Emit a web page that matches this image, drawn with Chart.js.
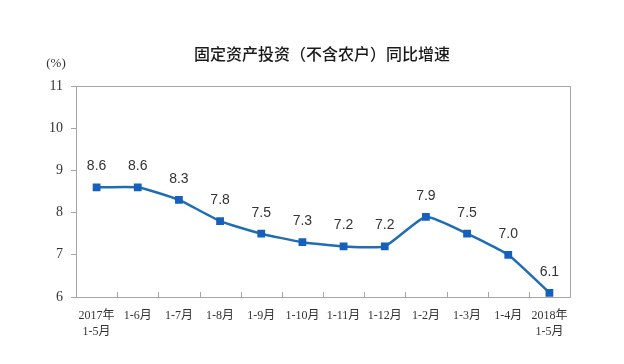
<!DOCTYPE html>
<html><head><meta charset="utf-8">
<script src="https://cdn.jsdelivr.net/npm/chart.js@4"></script>
<style>html,body{margin:0;padding:0;background:#fff;overflow:hidden}#wrap{width:624px;height:364px}</style>
</head><body><div id="wrap"><canvas id="c" width="624" height="364"></canvas></div>
<script>
const categories = [["2017年","1-5月"],"1-6月","1-7月","1-8月","1-9月","1-10月","1-11月","1-12月","1-2月","1-3月","1-4月",["2018年","1-5月"]];
const growth = [8.6,8.6,8.3,7.8,7.5,7.3,7.2,7.2,7.9,7.5,7.0,6.1];
const yTicks = [6,7,8,9,10,11];
const titleText = "固定资产投资（不含农户）同比增速";
const unitText = "(%)";

const frame = {
  id: 'frame',
  beforeDatasetsDraw(chart) {
    const {ctx, chartArea: a, scales: {x}} = chart;
    ctx.save();
    ctx.strokeStyle = '#a6a6a6';
    ctx.lineWidth = 1;
    ctx.strokeRect(Math.round(a.left) + 0.5, Math.round(a.top) + 0.5, Math.round(a.right - a.left), Math.round(a.bottom - a.top));
    for (let i = 0; i < categories.length - 1; i++) {
      const px = Math.round((x.getPixelForValue(i) + x.getPixelForValue(i + 1)) / 2) + 0.5;
      ctx.beginPath();
      ctx.moveTo(px, a.bottom);
      ctx.lineTo(px, a.bottom - 5);
      ctx.stroke();
    }
    ctx.restore();
  },
  afterDatasetsDraw(chart) {
    const {ctx} = chart;
    const meta = chart.getDatasetMeta(0);
    ctx.save();
    ctx.font = '14px "Liberation Sans", Arial, sans-serif';
    ctx.fillStyle = '#333';
    ctx.textAlign = 'center';
    ctx.textBaseline = 'middle';
    meta.data.forEach((p, i) => {
      ctx.fillText(growth[i].toFixed(1), p.x, p.y - 21);
    });
    ctx.restore();
  },
  afterDraw(chart) {
    const {ctx} = chart;
    ctx.save();
    ctx.fillStyle = '#1a1a1a';
    ctx.textAlign = 'center';
    ctx.textBaseline = 'middle';
    ctx.font = '500 16px "Noto Sans CJK SC", sans-serif';
    ctx.fillText(titleText, 322, 54);
    ctx.font = '13px "Liberation Serif", serif';
    ctx.fillStyle = '#333';
    ctx.fillText(unitText, 56, 64);
    ctx.restore();
  }
};

new Chart(document.getElementById('c'), {
  type: 'line',
  data: {
    labels: categories,
    datasets: [{
      data: growth,
      borderColor: '#1f6db3',
      borderWidth: 2.5,
      backgroundColor: '#1560bd',
      pointStyle: 'rect',
      pointRadius: 5.5,
      pointBackgroundColor: '#1560bd',
      pointBorderColor: '#1560bd',
      pointBorderWidth: 0,
      tension: 0.15,
      fill: false
    }]
  },
  options: {
    responsive: false,
    animation: false,
    events: [],
    layout: {padding: {left: 40, right: 54, top: 86, bottom: 27}},
    plugins: {legend: {display: false}, tooltip: {enabled: false}, title: {display: false}},
    scales: {
      x: {
        offset: true,
        grid: {display: false},
        border: {display: false},
        ticks: {
          autoSkip: false, maxRotation: 0, minRotation: 0, padding: 2,
          color: '#333',
          font: {family: '"Liberation Serif", "Noto Sans CJK SC", serif', size: 12, lineHeight: 1.4}
        },
        afterFit(s) { s.height = 40; }
      },
      y: {
        min: yTicks[0], max: yTicks[yTicks.length - 1],
        afterBuildTicks(s) { s.ticks = yTicks.map(v => ({value: v})); },
        grid: {drawOnChartArea: false, tickLength: 5, color: '#a6a6a6'},
        border: {display: false},
        ticks: {
          padding: 8, color: '#333',
          font: {family: '"Liberation Serif", serif', size: 14}
        },
        afterFit(s) { s.width = 36; }
      }
    }
  },
  plugins: [frame]
});
</script>
</body></html>
